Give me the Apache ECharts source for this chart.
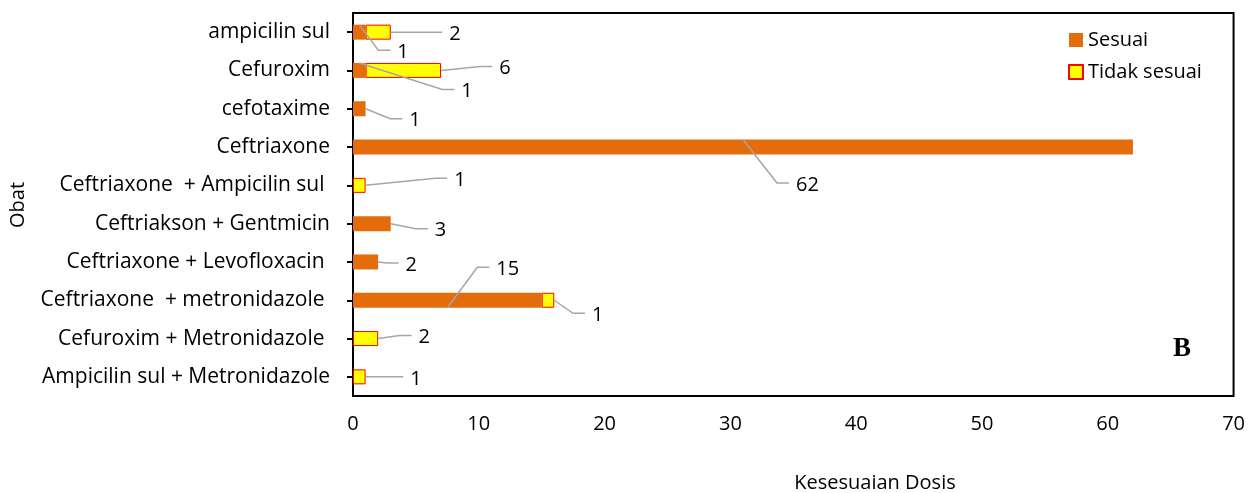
<!DOCTYPE html>
<html>
<head>
<meta charset="utf-8">
<script src="https://cdn.jsdelivr.net/npm/echarts@6/dist/echarts.min.js"></script>
<style>
  html, body { margin: 0; padding: 0; background: #ffffff; }
  #chart { width: 1248px; height: 493px; }
</style>
</head>
<body>
<div id="chart"></div>
<script>
// Drug combinations (top to bottom)
const categories = [
  'ampicilin sul',
  'Cefuroxim',
  'cefotaxime',
  'Ceftriaxone',
  'Ceftriaxone  + Ampicilin sul ',
  'Ceftriakson + Gentmicin',
  'Ceftriaxone + Levofloxacin ',
  'Ceftriaxone  + metronidazole ',
  'Cefuroxim + Metronidazole ',
  'Ampicilin sul + Metronidazole'
];
const seriesNames = ['Sesuai', 'Tidak sesuai'];
const sesuai      = [1, 1, 1, 62, 0, 3, 2, 15, 0, 0];
const tidakSesuai = [2, 6, 0, 0, 1, 0, 0, 1, 2, 1];
const xTickValues = [0, 10, 20, 30, 40, 50, 60, 70];

// Callout placement for the value labels:
// [series, category, end-of-leader dx, dy (px, from segment centre), leader style]
const calloutLayout = [
  [0, 0, 31, 18, 'through'],
  [1, 0, 64, 0, 'edge'],
  [0, 1, 95, 19, 'through'],
  [1, 1, 89, -4, 'edge'],
  [0, 2, 43, 10, 'edge'],
  [0, 3, 46, 36, 'through'],
  [1, 4, 88, -7, 'edge'],
  [0, 5, 56, 5, 'edge'],
  [0, 6, 33, 1, 'edge'],
  [0, 7, 42, -33, 'through'],
  [1, 7, 37, 13, 'edge'],
  [1, 8, 46, -3, 'edge'],
  [1, 9, 44, 0, 'edge']
];

const FONT = '"Open Sans", "Liberation Sans", sans-serif';
const ORANGE = '#E46C0A';
const YELLOW = '#FFFF00';
const BAR_W = 15;
const seriesValues = [sesuai, tidakSesuai];

function segBase(s, c) { return s === 0 ? 0 : sesuai[c]; }

const calloutData = calloutLayout.map((d, i) => {
  const s = d[0], c = d[1];
  return [segBase(s, c) + seriesValues[s][c] / 2, c, i];
});

function renderCallout(params, api) {
  const d = calloutLayout[api.value(2)];
  const s = d[0], c = d[1];
  const v = seriesValues[s][c];
  const base = segBase(s, c);
  const center = api.coord([base + v / 2, c]);
  const right = api.coord([base + v, c]);
  const end = [center[0] + d[2], center[1] + d[3]];
  const elbow = [end[0] - 12, end[1]];
  let start;
  if (d[4] === 'through') {
    start = [center[0], center[1] - Math.sign(d[3]) * BAR_W / 2];
  } else {
    start = [right[0], center[1]];
  }
  return {
    type: 'group',
    children: [
      {
        type: 'polyline',
        shape: { points: [start, elbow, end] },
        style: { stroke: '#A6A6A6', lineWidth: 1.5, fill: null }
      },
      {
        type: 'text',
        style: {
          text: String(v),
          x: end[0] + 7,
          y: end[1] + 2,
          align: 'left',
          verticalAlign: 'middle',
          font: '20px ' + FONT,
          fill: '#000000'
        }
      }
    ]
  };
}

const chart = echarts.init(document.getElementById('chart'), null, { renderer: 'canvas' });

chart.setOption({
  animation: false,
  backgroundColor: '#ffffff',
  textStyle: { fontFamily: FONT, color: '#000000' },
  grid: {
    left: 353, right: 13, top: 13, bottom: 97,
    show: true, borderColor: '#000000', borderWidth: 2,
    containLabel: false
  },
  legend: {
    data: seriesNames,
    orient: 'vertical',
    left: 1068, top: 30,
    padding: 0,
    itemWidth: 14, itemHeight: 14, itemGap: 12,
    icon: 'rect',
    textStyle: { fontFamily: FONT, fontSize: 20, color: '#000000', lineHeight: 20, padding: [0, 0, 0, 0] }
  },
  xAxis: {
    type: 'value',
    min: xTickValues[0],
    max: xTickValues[xTickValues.length - 1],
    interval: xTickValues[1] - xTickValues[0],
    axisLine: { show: false },
    axisTick: { show: false },
    splitLine: { show: false },
    axisLabel: { fontFamily: FONT, fontSize: 20, color: '#000000', margin: 18 }
  },
  yAxis: {
    type: 'category',
    data: categories,
    inverse: true,
    axisLine: { show: true, lineStyle: { color: '#000000', width: 2 } },
    axisTick: { show: true, alignWithLabel: true, length: 6, lineStyle: { color: '#000000', width: 2 } },
    splitLine: { show: false },
    axisLabel: { fontFamily: FONT, fontSize: 21, color: '#000000', margin: 23 }
  },
  graphic: [
    {
      type: 'text',
      style: { text: 'Kesesuaian Dosis', x: 875, y: 483, align: 'center', verticalAlign: 'middle',
               font: '20px ' + FONT, fill: '#000000' }
    },
    {
      type: 'text',
      x: 18, y: 205, rotation: Math.PI / 2,
      style: { text: 'Obat', x: 0, y: 0, align: 'center', verticalAlign: 'middle',
               font: '20px ' + FONT, fill: '#000000' }
    },
    {
      type: 'text',
      style: { text: 'B', x: 1182, y: 349, align: 'center', verticalAlign: 'middle',
               font: 'bold 27px "Liberation Serif", "DejaVu Serif", serif', fill: '#000000' }
    }
  ],
  series: [
    {
      name: seriesNames[0],
      type: 'bar',
      stack: 'total',
      barWidth: BAR_W,
      itemStyle: { color: ORANGE },
      data: sesuai.map(v => (v === 0 ? '-' : v))
    },
    {
      name: seriesNames[1],
      type: 'bar',
      stack: 'total',
      barWidth: BAR_W,
      itemStyle: { color: YELLOW, borderColor: '#FF0000', borderWidth: 1 },
      data: tidakSesuai.map(v => (v === 0 ? '-' : v))
    },
    {
      name: 'callouts',
      type: 'custom',
      renderItem: renderCallout,
      data: calloutData,
      encode: { x: 0, y: 1 },
      z: 5,
      silent: true
    }
  ]
});
</script>
</body>
</html>
